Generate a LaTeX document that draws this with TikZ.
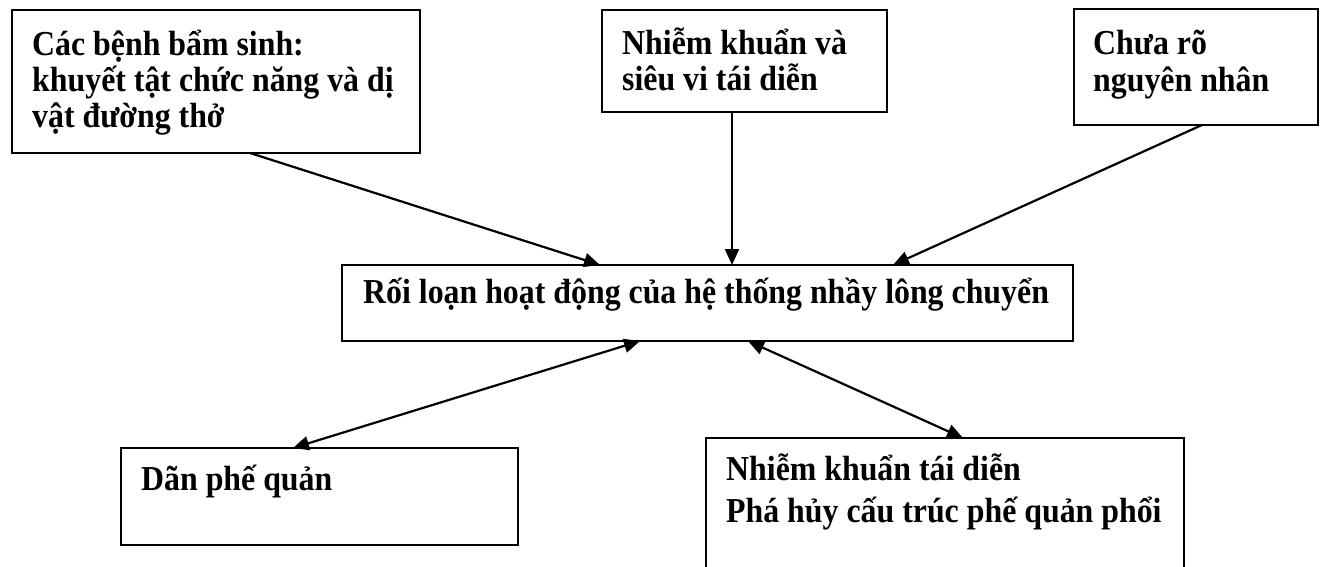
\documentclass[tikz,border=0pt]{standalone}
\usepackage{fontspec}
\setmainfont{Liberation Serif}[FakeStretch=0.91]
\usetikzlibrary{arrows.meta,calc}
\tikzset{
  box/.style={draw=black, line width=2pt, inner sep=0pt, outer sep=0pt, anchor=north west, fill=white},
  txt/.style={anchor=base west, inner sep=0pt, font=\fontsize{35}{40}\selectfont\bfseries},
  conn/.style={line width=2.2pt, -{Triangle[length=16pt,width=14pt]}},
  dconn/.style={line width=2.2pt, {Triangle[length=16pt,width=14pt]}-{Triangle[length=16pt,width=14pt]}}
}
\begin{document}
\begin{tikzpicture}[x=1pt,y=-1pt]
\useasboundingbox (0,0) rectangle (1320,567);
\fill[white] (0,0) rectangle (1320,567);
% boxes
\node[box, minimum width=408pt, minimum height=143pt] (b1) at (12,10) {};
\node[box, minimum width=285pt, minimum height=102pt] (b2) at (602,10) {};
\node[box, minimum width=244pt, minimum height=116pt] (b3) at (1074,9) {};
\node[box, minimum width=731pt, minimum height=76pt] (c) at (342,265) {};
\node[box, minimum width=397pt, minimum height=97pt] (b4) at (121,448) {};
\node[box, minimum width=478pt, minimum height=160pt] (b5) at (706,438) {};
% texts
\node[txt] (t1a) at (32,56) {Các bệnh bẩm sinh:};
\node[txt] (t1b) at (32,92) {khuyết tật chức năng và dị};
\node[txt] (t1c) at (32,128) {vật đường thở};
\node[txt] (t2a) at (622,55) {Nhiễm khuẩn và};
\node[txt] (t2b) at (622,91) {siêu vi tái diễn};
\node[txt] (t3a) at (1093,55) {Chưa rõ};
\node[txt] (t3b) at (1093,92) {nguyên nhân};
\node[txt] (tc) at (363,303) {Rối loạn hoạt động của hệ thống nhầy lông chuyển};
\node[txt] (t4) at (141,490) {Dãn phế quản};
\node[txt] (t5a) at (726,480) {Nhiễm khuẩn tái diễn};
\node[txt] (t5b) at (726,522) {Phá hủy cấu trúc phế quản phổi};
% connectors
\draw[conn] ($(b1.south west)+(238,0)$) -- ($(c.north west)+(258,0)$);
\draw[conn] ($(b2.south west)+(130,0)$) -- ($(c.north west)+(390,0)$);
\draw[conn] ($(b3.south west)+(128,0)$) -- ($(c.north west)+(551,0)$);
\draw[dconn] ($(c.south west)+(298,0)$) -- ($(b4.north west)+(172,0)$);
\draw[dconn] ($(c.south west)+(406,0)$) -- ($(b5.north west)+(257,0)$);
\end{tikzpicture}
\end{document}
